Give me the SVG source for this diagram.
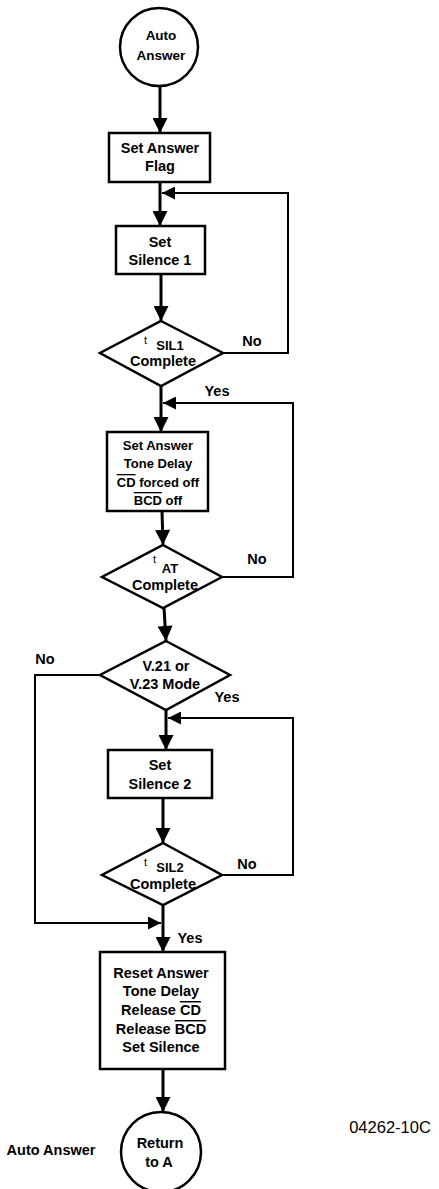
<svg xmlns="http://www.w3.org/2000/svg" width="439" height="1189" viewBox="0 0 439 1189">
<style>
.n{fill:#fff;stroke:#000;stroke-width:2.5}
.t{font-family:"Liberation Sans",Arial,sans-serif;font-weight:bold;font-size:14.5px;fill:#000;text-anchor:middle}
.s{font-size:13px}
.c{font-size:13.5px}
.sm{font-family:"Liberation Sans",Arial,sans-serif;font-size:11px;fill:#000}
.l{fill:none;stroke:#000;stroke-width:3}
.f{fill:none;stroke:#000;stroke-width:2}
.ol{text-decoration:overline}
</style>
<defs>
<marker id="a" viewBox="0 0 10 10" refX="10" refY="5" markerWidth="16" markerHeight="15" markerUnits="userSpaceOnUse" orient="auto">
<path d="M0,0 L10,5 L0,10 z" fill="#000"/>
</marker>
<marker id="b" viewBox="0 0 10 10" refX="10" refY="5" markerWidth="15" markerHeight="13" markerUnits="userSpaceOnUse" orient="auto">
<path d="M0,0 L10,5 L0,10 z" fill="#000"/>
</marker>
</defs>
<rect width="439" height="1189" fill="#fff"/>
<g id="connectors">
<line class="l" x1="160" y1="86" x2="160" y2="133" marker-end="url(#a)"/>
<line class="l" x1="160" y1="182" x2="160" y2="226" marker-end="url(#a)"/>
<polyline class="f" points="223,353 288,353 288,193 162,193" marker-end="url(#b)"/>
<line class="l" x1="161" y1="274" x2="161" y2="321" marker-end="url(#a)"/>
<line class="l" x1="161" y1="386" x2="161" y2="432" marker-end="url(#a)"/>
<polyline class="f" points="222,577 293,577 293,403 163,403" marker-end="url(#b)"/>
<line class="l" x1="162" y1="511" x2="163" y2="545" marker-end="url(#a)"/>
<line class="l" x1="164" y1="608" x2="166" y2="641" marker-end="url(#a)"/>
<polyline class="f" points="100,675 35,675 35,923 161,923" marker-end="url(#b)"/>
<line class="l" x1="166" y1="710" x2="166" y2="750" marker-end="url(#a)"/>
<polyline class="f" points="222,875 293,875 293,718 168,718" marker-end="url(#b)"/>
<line class="l" x1="163" y1="798" x2="163" y2="843" marker-end="url(#a)"/>
<line class="l" x1="163" y1="905" x2="163" y2="952" marker-end="url(#a)"/>
<line class="l" x1="163" y1="1069" x2="163" y2="1112" marker-end="url(#a)"/>
</g>
<g id="start">
<circle class="n" cx="159" cy="47" r="39"/>
<text class="t c" x="161" y="40">Auto</text>
<text class="t c" x="161" y="60">Answer</text>
</g>
<g id="setflag">
<rect class="n" x="109" y="133" width="101" height="49"/>
<text class="t" x="160" y="153">Set Answer</text>
<text class="t" x="160" y="171">Flag</text>
</g>
<g id="sil1">
<rect class="n" x="116" y="226" width="89" height="48"/>
<text class="t" x="160" y="247">Set</text>
<text class="t" x="160" y="265">Silence 1</text>
</g>
<g id="dsil1">
<polygon class="n" points="161,321 223,353 161,386 100,353"/>
<text class="sm" x="144" y="344">t</text>
<text class="t s" x="170" y="350">SIL1</text>
<text class="t" x="163" y="366">Complete</text>
<text class="t" x="252" y="346">No</text>
<text class="t" x="217" y="396">Yes</text>
</g>
<g id="tonedelay">
<rect class="n" x="107" y="432" width="101" height="79"/>
<text class="t s" x="158" y="450">Set Answer</text>
<text class="t s" x="158" y="468">Tone Delay</text>
<text class="t s" x="158" y="487"><tspan class="ol">CD</tspan> forced off</text>
<text class="t s" x="158" y="505"><tspan class="ol">BCD</tspan> off</text>
</g>
<g id="dat">
<polygon class="n" points="163,545 222,577 163,608 102,577"/>
<text class="sm" x="153" y="563">t</text>
<text class="t s" x="170" y="573">AT</text>
<text class="t" x="165" y="590">Complete</text>
<text class="t" x="257" y="564">No</text>
</g>
<g id="dmode">
<polygon class="n" points="166,641 230,675 166,710 100,675"/>
<text class="t" x="166" y="671">V.21 or</text>
<text class="t" x="165" y="689">V.23 Mode</text>
<text class="t" x="45" y="664">No</text>
<text class="t" x="227" y="702">Yes</text>
</g>
<g id="sil2">
<rect class="n" x="108" y="750" width="104" height="48"/>
<text class="t" x="160" y="770">Set</text>
<text class="t" x="160" y="789">Silence 2</text>
</g>
<g id="dsil2">
<polygon class="n" points="163,843 222,875 163,905 102,875"/>
<text class="sm" x="144" y="866">t</text>
<text class="t s" x="170" y="872">SIL2</text>
<text class="t" x="163" y="889">Complete</text>
<text class="t" x="247" y="869">No</text>
<text class="t" x="190" y="943">Yes</text>
</g>
<g id="reset">
<rect class="n" x="100" y="952" width="125" height="117"/>
<text class="t" x="161" y="978">Reset Answer</text>
<text class="t" x="161" y="996">Tone Delay</text>
<text class="t" x="161" y="1015">Release <tspan class="ol">CD</tspan></text>
<text class="t" x="161" y="1034">Release <tspan class="ol">BCD</tspan></text>
<text class="t" x="161" y="1052">Set Silence</text>
</g>
<g id="end">
<circle class="n" cx="161" cy="1152" r="40"/>
<text class="t" x="160" y="1148">Return</text>
<text class="t" x="159" y="1167">to A</text>
</g>
<text class="t" x="51" y="1155">Auto Answer</text>
<text x="390" y="1133" font-family="Liberation Sans,Arial,sans-serif" font-size="16.5" text-anchor="middle">04262-10C</text>
</svg>
